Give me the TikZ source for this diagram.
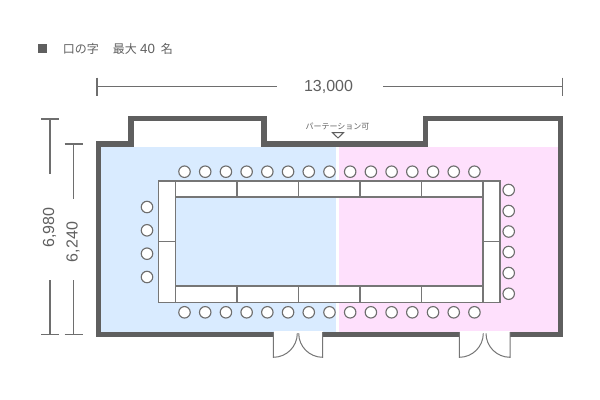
\documentclass[tikz,border=0pt]{standalone}
\usepackage{fontspec}
\setmainfont{Liberation Sans}
\newfontfamily\cjk{Noto Sans CJK JP}
\definecolor{wallc}{HTML}{5F5F5F}
\definecolor{linec}{HTML}{6E6E6E}
\definecolor{tablec}{HTML}{767676}
\definecolor{textc}{HTML}{606060}
\definecolor{bluec}{HTML}{D9EBFF}
\definecolor{pinkc}{HTML}{FEE0FC}
\tikzset{
  px/.style={x=0.75pt,y=-0.75pt},
  tablebox/.style={draw=tablec,line width=1.1pt,fill=white},
  chair/.style={circle,draw=linec,line width=0.85pt,fill=white,minimum size=8.6pt,inner sep=0pt,outer sep=0pt},
  dimline/.style={draw=linec,line width=1pt},
  doorline/.style={draw=tablec,line width=0.75pt},
  dimtext/.style={text=textc,font=\fontsize{12}{12}\selectfont,inner sep=0pt},
}
\begin{document}
\begin{tikzpicture}[px]
\useasboundingbox (0,0) rectangle (600,400);
\fill[white] (0,0) rectangle (600,400);
% floor
\fill[bluec] (101,147) rectangle (336,332);
\fill[pinkc] (339,147) rectangle (558,332);
% walls
\draw[wallc,line width=4pt,miter limit=10] (98.5,334.2) -- (98.5,144) -- (131,144) -- (131,118.5) -- (264,118.5) -- (264,144) -- (425.8,144) -- (425.8,118.5) -- (560.7,118.5) -- (560.7,334.2) -- cycle;
% door gaps
\fill[white] (273.5,330.5) rectangle (322.5,338);
\fill[white] (459.5,330.5) rectangle (509.5,338);
% doors
\draw[doorline] (273.3,332) -- (273.3,357.3) arc[start angle=90,end angle=0,radius=24];
\draw[doorline] (322.7,332) -- (322.7,357.3) arc[start angle=90,end angle=180,radius=24];
\draw[doorline] (459.3,332) -- (459.3,357.3) arc[start angle=90,end angle=0,radius=24];
\draw[doorline] (510,332) -- (510,357.3) arc[start angle=90,end angle=180,radius=24];
% tables
\foreach \a/\b in {175/237,237/298.5,298.5/360,360/421.5,421.5/483}{
  \draw[tablebox] (\a,181) rectangle (\b,197);
  \draw[tablebox] (\a,286) rectangle (\b,302.5);
}
\draw[tablebox] (158.5,181) rectangle (175.5,241.5);
\draw[tablebox] (158.5,241.5) rectangle (175.5,302.5);
\draw[tablebox] (483,181) rectangle (500,241.5);
\draw[tablebox] (483,241.5) rectangle (500,302.5);
% chairs
\foreach \i in {0,...,14}{
  \node[chair] (t\i) at ({184.5+20.71*\i},171.7) {};
  \node[chair] (b\i) at ({184.5+20.71*\i},312.3) {};
}
\foreach \y [count=\i] in {207,230.3,253.7,277}{
  \node[chair] (l\i) at (147,\y) {};
}
\foreach \y [count=\i] in {190,211,231.5,252,273,293.7}{
  \node[chair] (r\i) at (508.7,\y) {};
}
% title
\fill[wallc] (38,44) rectangle (47.3,53.3);
\node[anchor=west,inner sep=0pt,text=textc,font=\fontsize{9}{9}\selectfont] (title) at (62.5,49) {\cjk 口の字\hspace{10.5pt}最大\hspace{2.6pt}{\rmfamily\fontsize{10}{10}\selectfont 40}\hspace{4.3pt}名};
% width dimension
\node[dimtext] (w) at (328.5,87) {13,000};
\coordinate (wl) at (97,86.5);
\coordinate (wr) at (562.5,86.5);
\draw[dimline] (wl) -- (276.5,86.5);
\draw[dimline] (383,86.5) -- (wr);
\draw[dimline] (97,77.5) -- (97,95.5);
\draw[dimline] (562.5,77.5) -- (562.5,95.5);
% height dimensions
\node[dimtext,rotate=90] (h1) at (49.5,227.5) {6,980};
\node[dimtext,rotate=90] (h2) at (73,242) {6,240};
\draw[dimline] (41,119) -- (59,119);
\draw[dimline] (50,119) -- (50,173.5);
\draw[dimline] (50,280) -- (50,334.5);
\draw[dimline] (41,334.5) -- (59,334.5);
\draw[dimline] (64.5,144) -- (82.5,144);
\draw[dimline] (73.5,144) -- (73.5,198.5);
\draw[dimline] (73.5,280) -- (73.5,334.5);
\draw[dimline] (64.5,334.5) -- (82.5,334.5);
% partition label
\node[inner sep=0pt,text=textc,font=\fontsize{6}{6}\selectfont] (part) at (337.5,127) {\cjk パーテーション可};
\draw[draw=wallc,line width=0.75pt,fill=white] (332.5,132.7) -- (343.5,132.7) -- (338,138) -- cycle;
\end{tikzpicture}
\end{document}
